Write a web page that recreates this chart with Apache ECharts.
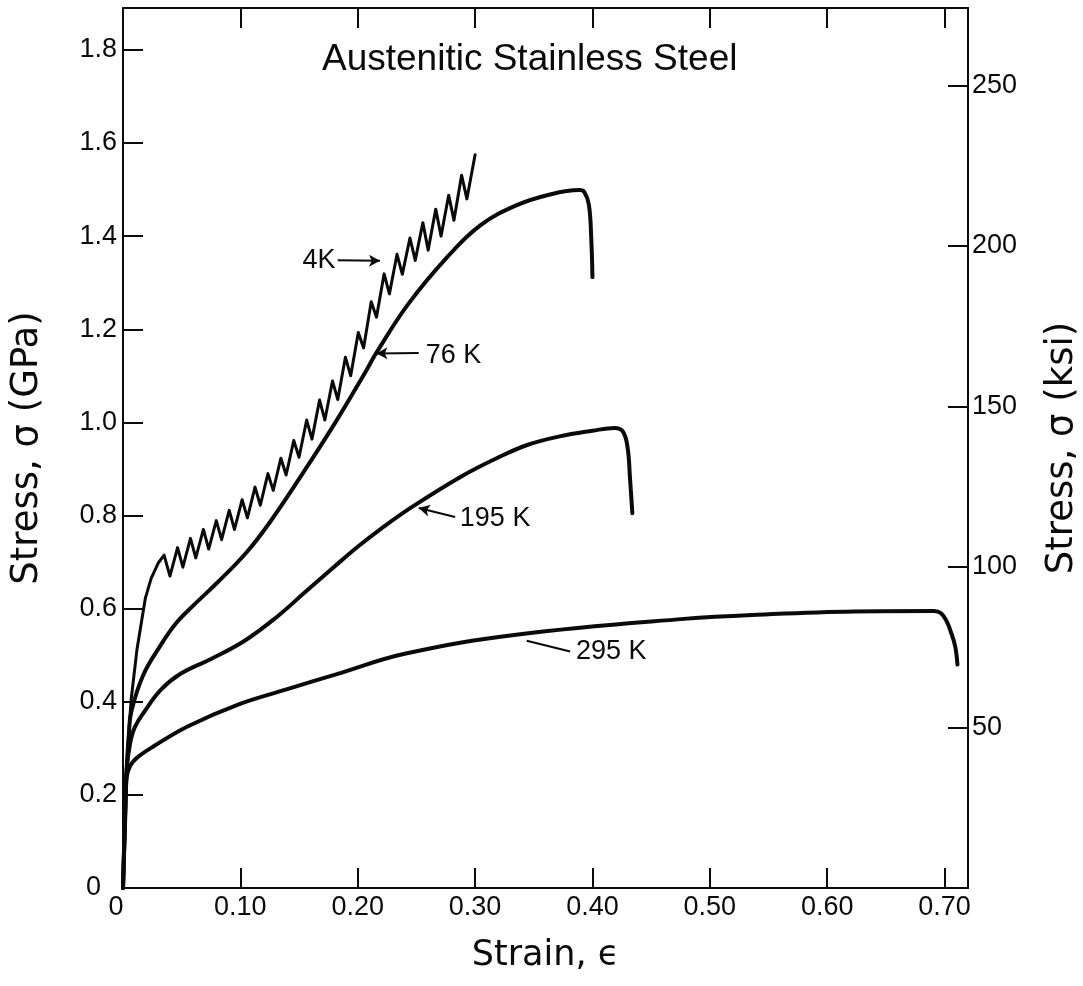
<!DOCTYPE html>
<html>
<head>
<meta charset="utf-8">
<script src="https://cdn.jsdelivr.net/npm/echarts@6/dist/echarts.min.js"></script>
<style>
  html, body { margin: 0; padding: 0; background: #fff; }
  #chart { width: 1083px; height: 986px; }
</style>
</head>
<body>
<div id="chart"></div>
<script>
// Tensile stress–strain curves of austenitic stainless steel at four temperatures.
// Each series: [strain, stress in GPa]

const curve295K = [
  [0, 0], [0.002, 0.16], [0.003, 0.235], [0.006, 0.262], [0.012, 0.28],
  [0.0265, 0.305], [0.055, 0.347], [0.097, 0.393], [0.14, 0.427],
  [0.183, 0.46], [0.24, 0.503], [0.335, 0.544], [0.478, 0.578],
  [0.55, 0.588], [0.623, 0.594], [0.691, 0.595], [0.697, 0.59],
  [0.702, 0.572], [0.705, 0.553], [0.709, 0.52], [0.711, 0.48]
];

const curve195K = [
  [0, 0], [0.002, 0.18], [0.003, 0.25], [0.006, 0.31], [0.01, 0.345],
  [0.018, 0.378], [0.032, 0.425], [0.049, 0.46], [0.075, 0.492],
  [0.103, 0.53], [0.13, 0.58], [0.155, 0.635], [0.18, 0.69],
  [0.2, 0.733], [0.22, 0.772], [0.246, 0.818], [0.289, 0.885],
  [0.32, 0.925], [0.345, 0.952], [0.372, 0.97], [0.4, 0.982], [0.419, 0.988],
  [0.426, 0.98], [0.43, 0.945], [0.432, 0.88], [0.434, 0.805]
];

const curve76K = [
  [0, 0], [0.002, 0.18], [0.003, 0.25], [0.005, 0.33], [0.007, 0.378],
  [0.017, 0.456], [0.032, 0.521], [0.045, 0.568], [0.06, 0.607],
  [0.08, 0.655], [0.105, 0.72], [0.125, 0.785], [0.153, 0.89], [0.181, 1.0],
  [0.207, 1.11], [0.216, 1.15], [0.243, 1.254], [0.277, 1.357],
  [0.305, 1.424], [0.335, 1.466], [0.363, 1.489], [0.389, 1.499],
  [0.393, 1.495], [0.397, 1.467], [0.399, 1.394], [0.4, 1.312]
];

// 4 K: serrated flow, listed valley / peak by valley / peak
const curve4K = [
  [0, 0], [0.002, 0.2], [0.004, 0.3], [0.007, 0.406], [0.012, 0.514],
  [0.019, 0.622], [0.024, 0.665], [0.03, 0.698], [0.035, 0.715],
  [0.040, 0.670], [0.0465, 0.731],
  [0.051, 0.689], [0.0575, 0.751],
  [0.062, 0.709], [0.0685, 0.770],
  [0.073, 0.728], [0.0795, 0.789],
  [0.084, 0.748], [0.0905, 0.811],
  [0.095, 0.770], [0.1015, 0.834],
  [0.106, 0.795], [0.1125, 0.861],
  [0.117, 0.822], [0.1235, 0.890],
  [0.128, 0.854], [0.1345, 0.923],
  [0.139, 0.887], [0.1455, 0.961],
  [0.150, 0.925], [0.1565, 1.005],
  [0.161, 0.964], [0.1675, 1.048],
  [0.172, 1.005], [0.1785, 1.089],
  [0.183, 1.049], [0.1895, 1.140],
  [0.194, 1.100], [0.2005, 1.193],
  [0.205, 1.160], [0.2115, 1.259],
  [0.216, 1.226], [0.2225, 1.319],
  [0.227, 1.276], [0.2335, 1.361],
  [0.238, 1.318], [0.2445, 1.396],
  [0.249, 1.348], [0.2555, 1.429],
  [0.260, 1.370], [0.2665, 1.458],
  [0.271, 1.400], [0.2775, 1.488],
  [0.282, 1.434], [0.2885, 1.531],
  [0.293, 1.480], [0.300, 1.575]
];

// Axis ticks and their printed labels
const strainTicks = [0, 0.1, 0.2, 0.3, 0.4, 0.5, 0.6, 0.7];
const strainTickLabels = ['0', '0.10', '0.20', '0.30', '0.40', '0.50', '0.60', '0.70'];
const gpaTicks = [0, 0.2, 0.4, 0.6, 0.8, 1.0, 1.2, 1.4, 1.6, 1.8];
const gpaTickLabels = ['0', '0.2', '0.4', '0.6', '0.8', '1.0', '1.2', '1.4', '1.6', '1.8'];
const ksiTicks = [50, 100, 150, 200, 250];
const ksiTickLabels = ['50', '100', '150', '200', '250'];

// Curve labels: text, anchor point, which side of the anchor the text sits
const curveLabels = ['4K', '76 K', '195 K', '295 K'];
const curveLabelAnchors = [[0.181, 1.347], [0.258, 1.144], [0.287, 0.793], [0.386, 0.507]];
const curveLabelSides = ['left', 'right', 'right', 'right'];
// Leader lines from label to curve: [from, to]
const leaderLines = [
  [[0.183, 1.348], [0.219, 1.347]],
  [[0.252, 1.149], [0.216, 1.148]],
  [[0.283, 0.797], [0.252, 0.816]],
  [[0.381, 0.508], [0.344, 0.531]]
];
const leaderHasArrow = [true, true, true, false];

const GPA_PER_KSI = 0.0068948;
const STRAIN_MAX = 0.72;
const GPA_MAX = 1.89;

const FONT = '"Liberation Sans", Arial, sans-serif';
const NAME_FONT = '"DejaVu Sans", "Liberation Sans", sans-serif';
const INK = '#0a0a0a';

function lookupLabel(ticks, labels, v) {
  for (let i = 0; i < ticks.length; i++) {
    if (Math.abs(ticks[i] - v) < 1e-6) return labels[i];
  }
  return '';
}

const axisLine = { show: true, onZero: false, lineStyle: { color: INK, width: 2 } };
const inTick = { show: true, inside: true, length: 20, lineStyle: { color: INK, width: 2 } };

const chart = echarts.init(document.getElementById('chart'), null, { renderer: 'canvas' });

const curveSeries = [
  { name: '295 K', data: curve295K, width: 4, smooth: 0.4 },
  { name: '195 K', data: curve195K, width: 4, smooth: 0.4 },
  { name: '76 K', data: curve76K, width: 4, smooth: 0.4 },
  { name: '4K', data: curve4K, width: 3, smooth: false }
].map(s => ({
  type: 'line',
  name: s.name,
  data: s.data,
  xAxisIndex: 0,
  yAxisIndex: 0,
  showSymbol: false,
  smooth: s.smooth,
  lineStyle: { color: INK, width: s.width, cap: 'round', join: 'round' },
  silent: true,
  animation: false,
  z: 3
}));

// Leader arrows and labels ride on an empty helper series
const annotationSeries = {
  type: 'line',
  data: [],
  xAxisIndex: 0,
  yAxisIndex: 0,
  silent: true,
  animation: false,
  markLine: {
    silent: true,
    animation: false,
    symbolSize: [9, 11],
    label: { show: false },
    data: leaderLines.map((seg, i) => [
      { coord: seg[0], symbol: 'none',
        lineStyle: { color: INK, width: 2, type: 'solid', curveness: leaderHasArrow[i] ? 0 : -0.35 } },
      { coord: seg[1], symbol: leaderHasArrow[i] ? 'arrow' : 'none' }
    ])
  },
  markPoint: {
    silent: true,
    animation: false,
    symbol: 'circle',
    symbolSize: 0,
    data: curveLabels.map((t, i) => ({
      coord: curveLabelAnchors[i],
      label: {
        show: true,
        formatter: t,
        position: curveLabelSides[i],
        distance: 0,
        color: INK,
        fontFamily: FONT,
        fontSize: 27
      }
    }))
  }
};

chart.setOption({
  animation: false,
  backgroundColor: '#ffffff',
  title: {
    text: 'Austenitic Stainless Steel',
    left: 322,
    top: 41,
    padding: 0,
    textStyle: { color: INK, fontFamily: FONT, fontSize: 37, fontWeight: 'normal' }
  },
  grid: { left: 123, right: 115, top: 8, bottom: 98, outerBoundsMode: 'none', containLabel: false },
  xAxis: [
    {
      type: 'value', position: 'bottom', min: 0, max: STRAIN_MAX, interval: 0.1,
      axisLine, axisTick: inTick, splitLine: { show: false },
      axisLabel: {
        margin: 6, color: INK, fontFamily: FONT, fontSize: 27,
        showMaxLabel: false,
        formatter: v => {
          const t = lookupLabel(strainTicks, strainTickLabels, v);
          return v === 0 ? '{origin|' + t + '}' : t;
        },
        rich: { origin: { fontFamily: FONT, fontSize: 27, color: INK, padding: [0, 14, 0, 0] } }
      },
      name: 'Strain, \u03F5', nameLocation: 'middle', nameGap: 50,
      nameTextStyle: { color: INK, fontFamily: NAME_FONT, fontSize: 35 }
    },
    {
      type: 'value', position: 'top', min: 0, max: STRAIN_MAX, interval: 0.1,
      axisLine, axisTick: inTick, splitLine: { show: false },
      axisLabel: { show: false }
    }
  ],
  yAxis: [
    {
      type: 'value', position: 'left', min: 0, max: GPA_MAX, interval: 0.2,
      axisLine, axisTick: inTick, splitLine: { show: false },
      axisLabel: {
        margin: 6, color: INK, fontFamily: FONT, fontSize: 27,
        showMaxLabel: false,
        formatter: v => {
          const t = lookupLabel(gpaTicks, gpaTickLabels, v);
          return v === 0 ? '{origin|' + t + '}' : t;
        },
        rich: { origin: { fontFamily: FONT, fontSize: 27, color: INK, padding: [0, 16, 0, 0] } }
      },
      name: 'Stress, \u03C3 (GPa)', nameLocation: 'middle', nameRotate: 90, nameGap: 77,
      nameTextStyle: { color: INK, fontFamily: NAME_FONT, fontSize: 37 }
    },
    {
      type: 'value', position: 'right', min: 0, max: GPA_MAX / GPA_PER_KSI, interval: 50,
      axisLine, axisTick: inTick, splitLine: { show: false },
      axisLabel: {
        margin: 4, color: INK, fontFamily: FONT, fontSize: 27,
        showMaxLabel: false,
        formatter: v => lookupLabel(ksiTicks, ksiTickLabels, v)
      },
      name: 'Stress, \u03C3 (ksi)', nameLocation: 'middle', nameRotate: 90, nameGap: 76,
      nameTextStyle: { color: INK, fontFamily: NAME_FONT, fontSize: 37 }
    }
  ],
  series: [...curveSeries, annotationSeries]
});
</script>
</body>
</html>
